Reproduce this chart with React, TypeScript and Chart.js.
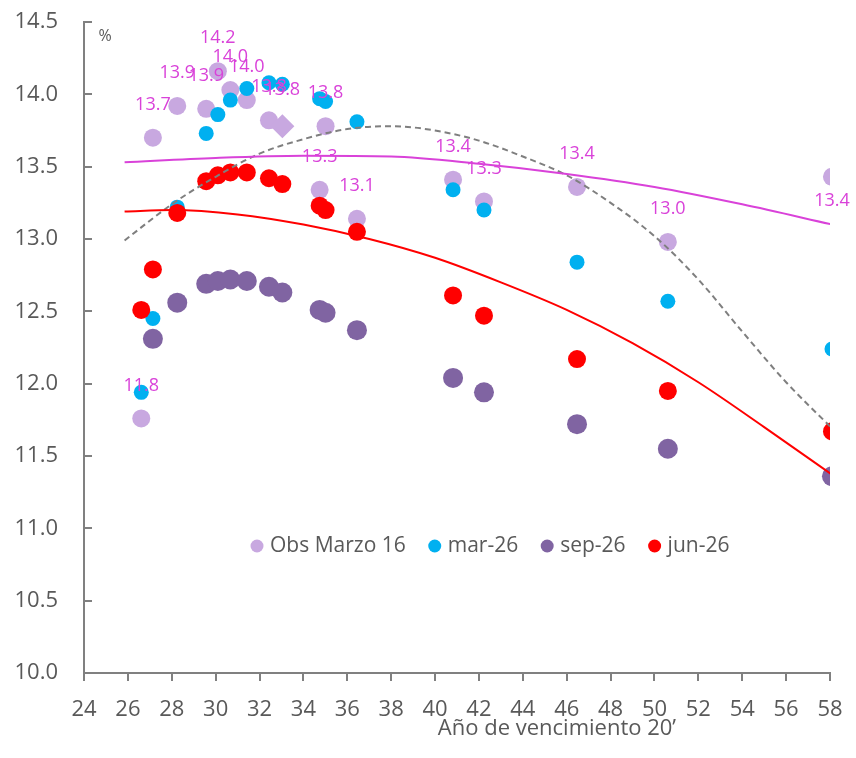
import React, { useEffect, useRef } from 'react';
import { Chart, registerables } from 'chart.js';

Chart.register(...registerables);

// Maturity year (20xx) of each bond
const maturities = [26.61, 27.14, 28.25, 29.57, 30.1, 30.67, 31.42, 32.43, 33.04, 34.74, 35.01, 36.44, 40.82, 42.23, 46.47, 50.61, 58.09];
// Yields, %
const obsMarzo16 = [11.76, 13.7, 13.92, 13.9, 14.16, 14.03, 13.96, 13.82, 13.78, 13.34, 13.78, 13.14, 13.41, 13.26, 13.36, 12.98, 13.43];
const mar26 = [11.94, 12.45, 13.22, 13.73, 13.86, 13.96, 14.04, 14.08, 14.07, 13.97, 13.95, 13.81, 13.34, 13.2, 12.84, 12.57, 12.24];
const sep26: (number | null)[] = [null, 12.31, 12.56, 12.69, 12.71, 12.72, 12.71, 12.67, 12.63, 12.51, 12.49, 12.37, 12.04, 11.94, 11.72, 11.55, 11.36];
const jun26 = [12.51, 12.79, 13.18, 13.4, 13.44, 13.46, 13.46, 13.42, 13.38, 13.23, 13.2, 13.05, 12.61, 12.47, 12.17, 11.95, 11.67];

// Trend lines
const trendObsX = [25.85, 30, 34, 38, 42, 46, 50, 54, 58.1];
const trendObsY = [13.53, 13.56, 13.575, 13.57, 13.52, 13.45, 13.36, 13.24, 13.1];
const trendJunX = [25.85, 28, 31, 34, 37, 40, 43, 46, 49, 52, 55, 58.1];
const trendJunY = [13.19, 13.2, 13.17, 13.1, 13.0, 12.87, 12.7, 12.51, 12.28, 12.01, 11.7, 11.37];
const trendDashX = [25.85, 28, 30, 32, 34, 36, 38, 40, 42, 44, 46, 48, 50, 52, 54, 56, 58.1];
const trendDashY = [12.99, 13.24, 13.43, 13.59, 13.69, 13.76, 13.78, 13.75, 13.68, 13.57, 13.44, 13.25, 13.02, 12.72, 12.36, 12.01, 11.69];

const yTicks = [10.0, 10.5, 11.0, 11.5, 12.0, 12.5, 13.0, 13.5, 14.0, 14.5];
const xTickStep = 2;

const seriesLabels = ['Obs Marzo 16', 'mar-26', 'sep-26', 'jun-26'];
const seriesColors = ['#C8A8E0', '#00B0F0', '#8064A2', '#FF0000'];
const diamondIndex = 8;
const labelsBelow = new Set([16]);

const FONT = "'Open Sans', 'Noto Sans', sans-serif";
const TEXT = '#595959';
const MAGENTA = '#D942D9';

const pts = (ys: (number | null)[], xs: number[] = maturities) => xs.map((x, i) => ({ x, y: ys[i] }));

const obsLabelPlugin = {
  id: 'obsLabels',
  afterDatasetsDraw(chart: any) {
    const meta = chart.getDatasetMeta(0);
    const ctx = chart.ctx;
    ctx.save();
    ctx.font = `18px ${FONT}`;
    ctx.fillStyle = MAGENTA;
    ctx.textAlign = 'center';
    ctx.textBaseline = 'middle';
    meta.data.forEach((el: any, i: number) => {
      const v = obsMarzo16[i];
      if (v == null) return;
      const r = el.options.radius || 9;
      const dy = labelsBelow.has(i) ? r + 15 : -(r + 24);
      ctx.fillText(v.toFixed(1), el.x, el.y + dy);
    });
    ctx.restore();
  },
};

const extrasPlugin = {
  id: 'extras',
  afterDraw(chart: any) {
    const ctx = chart.ctx;
    const a = chart.chartArea;
    ctx.save();
    ctx.fillStyle = TEXT;
    // unit
    ctx.font = `16px ${FONT}`;
    ctx.textAlign = 'center';
    ctx.textBaseline = 'middle';
    ctx.fillText('%', a.left + 21, a.top + 14);
    // x axis title
    ctx.font = `22px ${FONT}`;
    ctx.fillText('Año de vencimiento 20’', a.left + 0.634 * (a.right - a.left), a.bottom + 56);
    // legend
    ctx.font = `21px ${FONT}`;
    ctx.textAlign = 'left';
    let x = a.left + 173;
    const y = a.top + 524;
    seriesLabels.forEach((lab, i) => {
      ctx.fillStyle = seriesColors[i];
      ctx.beginPath();
      ctx.arc(x, y, 6.5, 0, Math.PI * 2);
      ctx.fill();
      ctx.fillStyle = TEXT;
      ctx.fillText(lab, x + 13, y);
      x += 13 + ctx.measureText(lab).width + 29;
    });
    ctx.restore();
  },
};

export default function App() {
  const ref = useRef<HTMLCanvasElement | null>(null);

  useEffect(() => {
    document.body.style.margin = '0';
    if (!ref.current) return;
    const pointBase = { showLine: false, borderWidth: 0 };
    const lineBase = { showLine: true, pointRadius: 0, pointHoverRadius: 0, fill: false, cubicInterpolationMode: 'monotone' as const, order: 0 };
    const chart = new Chart(ref.current, {
      type: 'scatter',
      data: {
        datasets: [
          {
            ...pointBase,
            label: seriesLabels[0],
            data: pts(obsMarzo16),
            backgroundColor: seriesColors[0],
            borderColor: seriesColors[0],
            pointRadius: maturities.map((_, i) => (i === diamondIndex ? 12 : 9)),
            pointStyle: maturities.map((_, i) => (i === diamondIndex ? 'rectRot' : 'circle')),
            order: 4,
          },
          {
            ...pointBase,
            label: seriesLabels[1],
            data: pts(mar26),
            backgroundColor: seriesColors[1],
            borderColor: seriesColors[1],
            pointRadius: 7.5,
            order: 2,
          },
          {
            ...pointBase,
            label: seriesLabels[2],
            data: pts(sep26),
            backgroundColor: seriesColors[2],
            borderColor: seriesColors[2],
            pointRadius: 10,
            order: 3,
          },
          {
            ...pointBase,
            label: seriesLabels[3],
            data: pts(jun26),
            backgroundColor: seriesColors[3],
            borderColor: seriesColors[3],
            pointRadius: 9,
            order: 1,
          },
          {
            ...lineBase,
            label: 'trend obs',
            data: pts(trendObsY, trendObsX),
            borderColor: MAGENTA,
            borderWidth: 2,
          },
          {
            ...lineBase,
            label: 'trend jun',
            data: pts(trendJunY, trendJunX),
            borderColor: '#FF0000',
            borderWidth: 2,
          },
          {
            ...lineBase,
            label: 'trend dash',
            data: pts(trendDashY, trendDashX),
            borderColor: '#7F7F7F',
            borderWidth: 2,
            borderDash: [6, 4],
          },
        ] as any,
      },
      options: {
        animation: false,
        responsive: false,
        layout: { padding: { top: 22, right: 26, left: 0, bottom: 0 } },
        plugins: { legend: { display: false }, tooltip: { enabled: false } },
        scales: {
          x: {
            type: 'linear',
            min: 24,
            max: 58,
            afterFit: (s: any) => { s.height = 85; s.paddingLeft = 0; s.paddingRight = 0; },
            border: { color: '#808080', width: 2 },
            grid: { drawOnChartArea: false, drawTicks: true, tickLength: 8, color: '#808080', lineWidth: 2 },
            ticks: { stepSize: xTickStep, color: TEXT, font: { family: FONT, size: 22 }, padding: 16, maxRotation: 0 },
          },
          y: {
            type: 'linear',
            min: yTicks[0],
            max: yTicks[yTicks.length - 1],
            afterFit: (s: any) => { s.width = 84; s.paddingTop = 0; s.paddingBottom = 0; },
            afterBuildTicks: (s: any) => { s.ticks = yTicks.map((v) => ({ value: v })); },
            border: { color: '#808080', width: 2 },
            grid: { drawOnChartArea: false, drawTicks: true, tickLength: -8, color: '#808080', lineWidth: 2 },
            ticks: { color: TEXT, font: { family: FONT, size: 22 }, padding: 34, callback: (v: any) => Number(v).toFixed(1) },
          },
        },
      } as any,
      plugins: [obsLabelPlugin, extrasPlugin],
    });
    return () => chart.destroy();
  }, []);

  return (
    <div style={{ width: 856, height: 758 }}>
      <canvas ref={ref} width={856} height={758} />
    </div>
  );
}
